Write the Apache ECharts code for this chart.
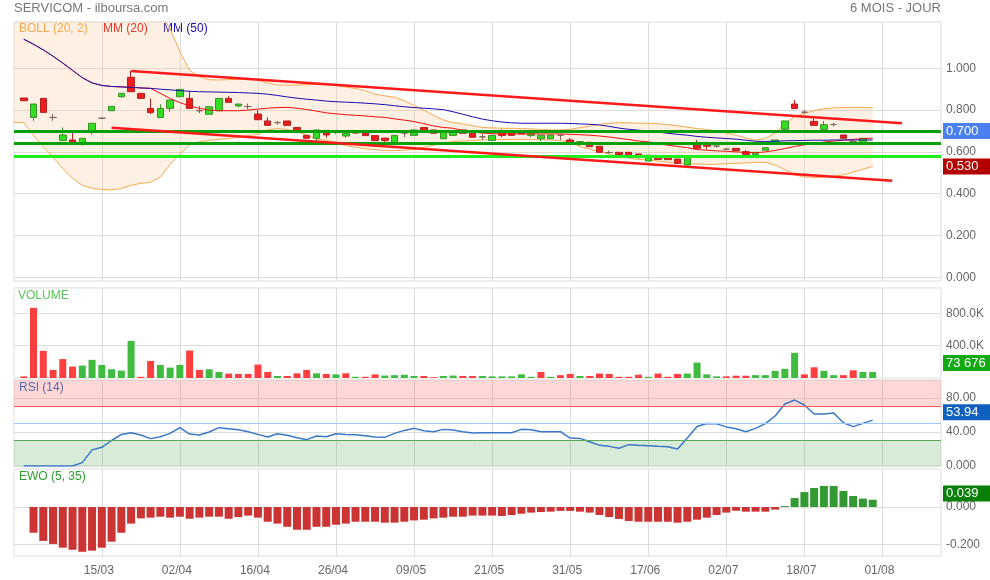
<!DOCTYPE html>
<html><head><meta charset="utf-8">
<script src="https://cdn.jsdelivr.net/npm/echarts@6/dist/echarts.min.js"></script>
<style>html,body{margin:0;padding:0;background:#fff}#c{width:990px;height:580px}</style>
</head><body><div id="c"></div>
<script>
// ---------- DATA ----------
const tickLabels = ['15/03','02/04','16/04','26/04','09/05','21/05','31/05','17/06','02/07','18/07','01/08'];
// daily candles [open, close, low, high]
const candles = [
[0.858,0.845,0.845,0.858],[0.765,0.829,0.749,0.829],[0.856,0.789,0.789,0.856],[0.765,0.765,0.749,0.781],
[0.654,0.681,0.654,0.717],[0.657,0.644,0.644,0.692],[0.641,0.665,0.630,0.665],[0.698,0.737,0.682,0.737],
[0.761,0.761,0.757,0.765],[0.797,0.818,0.797,0.818],[0.864,0.880,0.859,0.880],[0.957,0.888,0.888,0.987],
[0.880,0.856,0.856,0.880],[0.808,0.788,0.781,0.856],[0.764,0.808,0.764,0.828],[0.808,0.848,0.792,0.848],
[0.864,0.899,0.864,0.899],[0.856,0.808,0.808,0.891],[0.797,0.797,0.785,0.820],[0.780,0.816,0.780,0.816],
[0.797,0.856,0.797,0.856],[0.856,0.837,0.837,0.867],[0.820,0.829,0.813,0.829],[0.817,0.817,0.804,0.831],
[0.781,0.754,0.754,0.800],[0.748,0.727,0.727,0.765],[0.740,0.740,0.730,0.748],[0.748,0.727,0.727,0.748],
[0.717,0.700,0.700,0.717],[0.679,0.665,0.665,0.679],[0.665,0.705,0.649,0.705],[0.703,0.681,0.668,0.703],
[0.694,0.694,0.686,0.702],[0.676,0.689,0.668,0.692],[0.700,0.690,0.690,0.700],[0.700,0.678,0.678,0.700],
[0.678,0.654,0.654,0.678],[0.666,0.654,0.644,0.666],[0.641,0.679,0.641,0.679],[0.690,0.690,0.670,0.700],
[0.679,0.705,0.679,0.705],[0.717,0.700,0.700,0.717],[0.705,0.689,0.689,0.705],[0.663,0.697,0.663,0.697],
[0.679,0.700,0.679,0.700],[0.705,0.689,0.689,0.705],[0.689,0.670,0.668,0.689],[0.672,0.672,0.657,0.686],
[0.655,0.679,0.655,0.679],[0.700,0.679,0.670,0.708],[0.700,0.679,0.679,0.700],[0.700,0.686,0.686,0.700],
[0.679,0.690,0.670,0.690],[0.663,0.680,0.650,0.682],[0.663,0.681,0.663,0.681],[0.680,0.680,0.657,0.684],
[0.657,0.646,0.646,0.666],[0.641,0.649,0.630,0.649],[0.646,0.625,0.625,0.646],[0.627,0.598,0.598,0.627],
[0.597,0.597,0.590,0.606],[0.598,0.587,0.587,0.598],[0.598,0.586,0.586,0.598],[0.590,0.584,0.568,0.590],
[0.556,0.584,0.556,0.584],[0.577,0.564,0.564,0.577],[0.577,0.563,0.563,0.577],[0.566,0.545,0.545,0.566],
[0.537,0.577,0.537,0.577],[0.633,0.617,0.617,0.657],[0.641,0.627,0.611,0.641],[0.628,0.628,0.620,0.630],
[0.613,0.613,0.609,0.617],[0.617,0.606,0.606,0.617],[0.601,0.588,0.588,0.609],[0.588,0.598,0.588,0.598],
[0.608,0.620,0.608,0.620],[0.646,0.657,0.646,0.657],[0.708,0.748,0.692,0.748],[0.829,0.807,0.807,0.848],
[0.790,0.790,0.781,0.800],[0.746,0.727,0.727,0.760],[0.708,0.730,0.692,0.748],[0.731,0.731,0.721,0.740],
[0.681,0.665,0.665,0.681],[0.650,0.650,0.644,0.657],[0.641,0.665,0.641,0.665],[0.700,0.700,0.692,0.705]
];
const volumes = [
20000,866000,335000,100000,234000,141000,153000,224000,161000,108000,
91000,458000,15000,211000,161000,128000,161000,339000,100000,108000,
75000,54000,50000,50000,166000,75000,25000,25000,58000,100000,
58000,50000,45000,58000,15000,15000,45000,30000,35000,40000,
25000,25000,10000,25000,30000,25000,25000,25000,20000,20000,
20000,45000,15000,75000,15000,35000,50000,25000,25000,55000,
50000,15000,15000,40000,15000,55000,15000,50000,55000,190000,
45000,20000,20000,28000,28000,35000,35000,88000,113000,311000,
45000,132000,88000,35000,35000,95000,75000,73676
];
const ma20 = [
1.139,1.115,1.088,1.058,1.025,0.990,0.955,0.930,0.918,0.913,
0.911,0.909,0.906,0.904,0.880,0.855,0.836,0.820,0.808,0.800,
0.797,0.797,0.797,0.800,0.805,0.809,0.812,0.813,0.809,0.803,
0.795,0.787,0.782,0.778,0.775,0.772,0.768,0.765,0.758,0.752,
0.745,0.735,0.724,0.717,0.713,0.702,0.695,0.690,0.687,0.686,
0.686,0.686,0.686,0.686,0.686,0.686,0.684,0.682,0.680,0.676,
0.671,0.665,0.659,0.652,0.648,0.641,0.632,0.626,0.620,0.611,
0.608,0.605,0.603,0.600,0.598,0.596,0.600,0.607,0.616,0.626,
0.634,0.641,0.647,0.652,0.656,0.660,0.663,0.666
];
const ma50 = [
1.139,1.115,1.088,1.058,1.025,0.990,0.955,0.930,0.918,0.913,
0.911,0.909,0.906,0.904,0.900,0.897,0.893,0.890,0.888,0.887,
0.886,0.885,0.884,0.882,0.880,0.876,0.870,0.863,0.857,0.852,
0.848,0.843,0.840,0.838,0.836,0.833,0.830,0.826,0.821,0.816,
0.812,0.809,0.806,0.802,0.792,0.780,0.768,0.757,0.749,0.743,
0.739,0.737,0.737,0.737,0.737,0.737,0.736,0.734,0.732,0.729,
0.722,0.714,0.708,0.704,0.700,0.695,0.689,0.684,0.680,0.674,
0.670,0.667,0.664,0.661,0.656,0.651,0.650,0.651,0.653,0.654,
0.655,0.656,0.656,0.657,0.657,0.657,0.657,0.657
];
// Bollinger bands, starting one slot before the first candle
const bollUpper = [
1.54,1.54,1.52,1.50,1.48,1.46,1.44,1.42,1.40,1.39,
1.38,1.36,1.35,1.33,1.31,1.26,1.19,1.08,0.990,0.960,
0.945,0.944,0.946,0.947,0.946,0.944,0.930,0.920,0.920,0.920,
0.922,0.923,0.925,0.918,0.910,0.904,0.892,0.876,0.868,0.862,
0.845,0.822,0.800,0.775,0.753,0.740,0.734,0.725,0.717,0.715,
0.713,0.713,0.712,0.710,0.708,0.705,0.705,0.708,0.716,0.724,
0.732,0.737,0.740,0.739,0.737,0.737,0.735,0.730,0.725,0.718,
0.712,0.707,0.700,0.690,0.680,0.667,0.656,0.665,0.690,0.735,
0.768,0.785,0.797,0.806,0.811,0.812,0.812,0.812,0.812
];
const bollLower = [
0.740,0.740,0.680,0.625,0.575,0.520,0.474,0.440,0.426,0.420,
0.418,0.425,0.440,0.450,0.454,0.480,0.540,0.590,0.633,0.648,
0.655,0.660,0.664,0.670,0.678,0.684,0.705,0.712,0.707,0.697,
0.680,0.662,0.655,0.645,0.630,0.622,0.615,0.610,0.606,0.606,
0.608,0.612,0.622,0.632,0.642,0.649,0.652,0.655,0.657,0.658,
0.659,0.660,0.660,0.659,0.658,0.657,0.654,0.648,0.625,0.613,
0.600,0.590,0.578,0.570,0.564,0.561,0.556,0.550,0.546,0.543,
0.542,0.540,0.541,0.543,0.545,0.547,0.549,0.550,0.537,0.515,
0.490,0.480,0.478,0.479,0.483,0.490,0.503,0.517,0.530
];
const rsi = [
0,0,0,0,0,0,4,19,22,30,
37.2,39.2,36.5,32.2,34.5,38.4,45.1,37.6,36.5,40,
45.1,43.9,42.7,40.4,37.2,34.1,38,36.1,33.3,31,
35.3,34.5,38,37.2,36.9,35.7,34.1,33.7,38.4,41.9,
44.3,41.5,40.4,43.1,42.3,40.4,38.8,39,39.2,39.2,
39.2,43.1,42.7,40.4,40.4,40.4,32.9,32.5,28.6,24.3,
23.1,20.8,25.1,24.3,23.9,23.1,22.7,20,33,46.4,
50,49.6,46,43.9,40.4,44.3,49.8,58.8,73,77.6,
71.8,61.2,61.2,62.3,50.9,46.3,50.2,53.94
];
const ewo = [
'-',-0.138,-0.182,-0.198,-0.218,-0.229,-0.240,-0.234,-0.218,-0.186,
-0.138,-0.089,-0.061,-0.057,-0.052,-0.057,-0.052,-0.063,-0.057,-0.052,
-0.052,-0.063,-0.054,-0.046,-0.057,-0.079,-0.089,-0.106,-0.122,-0.122,
-0.106,-0.106,-0.095,-0.089,-0.079,-0.079,-0.079,-0.084,-0.084,-0.079,
-0.072,-0.068,-0.061,-0.057,-0.052,-0.052,-0.046,-0.046,-0.046,-0.048,
-0.043,-0.036,-0.030,-0.027,-0.025,-0.021,-0.021,-0.025,-0.030,-0.043,
-0.054,-0.064,-0.075,-0.079,-0.079,-0.079,-0.079,-0.084,-0.079,-0.068,
-0.057,-0.043,-0.030,-0.020,-0.025,-0.025,-0.025,-0.014,0.005,0.048,
0.080,0.102,0.113,0.113,0.086,0.059,0.045,0.039
];
const levels = [0.700, 0.640, 0.580];
const trendUpper = [[12, 0.987], [91, 0.737]];
const trendLower = [[10, 0.716], [90, 0.462]];

// ---------- BUILD ----------
const FONT = '"Liberation Sans", Arial, sans-serif';
const N = 96;
const cats = [];
for (let k = 0; k < N; k++) cats.push('');
tickLabels.forEach((t, j) => { cats[9 + 8 * j] = t; });
const pad = a => ['-'].concat(a);
const isTick = (i, v) => v !== '';

const candleData = pad(candles);
const closes = candles.map(c => c[1]);
const volData = pad(volumes.map((v, i) => {
  const up = i === 0 ? candles[0][1] >= candles[0][0] : closes[i] >= closes[i - 1];
  return { value: v, itemStyle: { color: up ? '#3fbb3f' : '#ff3f3f' } };
}));
const ewoData = pad(ewo.map(v => v === '-' ? '-' : { value: v, itemStyle: { color: v >= 0 ? '#339933' : '#cc3333' } }));
const bandDiff = bollUpper.map((u, i) => +(u - bollLower[i]).toFixed(4));

function fmtThousands(v) { return String(Math.round(v)).replace(/\B(?=(\d{3})+(?!\d))/g, ' '); }
function badge(value, text, bg, dy) {
  return {
    yAxis: value,
    lineStyle: { color: 'rgba(0,0,0,0)', width: 0 },
    label: { show: true, position: 'end', formatter: text, color: '#fff', backgroundColor: bg,
      fontSize: 13, fontFamily: FONT, padding: [2, 3, 1, 3], width: 41, distance: 2, offset: [0, dy || 0] }
  };
}

const gridBase = { left: 14, right: 49, show: true, borderColor: '#dddddd', borderWidth: 1 };
const grids = [
  Object.assign({ top: 22, height: 259 }, gridBase),
  Object.assign({ top: 288, height: 90 }, gridBase),
  Object.assign({ top: 380, height: 86 }, gridBase),
  Object.assign({ top: 469, height: 87 }, gridBase)
];
const xAxes = grids.map((g, i) => ({
  type: 'category', gridIndex: i, data: cats, boundaryGap: false,
  axisLine: { show: false }, axisTick: { show: false },
  axisLabel: i === 3 ? { interval: isTick, color: '#666', fontSize: 12, fontFamily: FONT, margin: 9, padding: [0, 6, 0, 0] }
                     : { show: false, interval: isTick },
  splitLine: { show: true, interval: isTick, lineStyle: { color: '#dddddd', width: 1 } }
}));
function yAx(i, min, max, ticks, fmt) {
  return {
    type: 'value', gridIndex: i, position: 'right', min: min, max: max, scale: false,
    axisLine: { show: false },
    axisTick: { show: false, customValues: ticks },
    axisLabel: { customValues: ticks, formatter: fmt, color: '#666', fontSize: 12, fontFamily: FONT, margin: 5 },
    splitLine: { show: true, lineStyle: { color: '#dddddd', width: 1 } }
  };
}
const yAxes = [
  yAx(0, -0.0177, 1.2215, [0, 0.2, 0.4, 0.6, 0.8, 1.0], v => v.toFixed(3)),
  yAx(1, 0, 1111000, [400000, 800000], v => (v / 1000).toFixed(1) + 'K'),
  yAx(2, 0, 101.2, [0, 40, 80], v => v === 0 ? '0.000' : v.toFixed(2)),
  yAx(3, -0.2627, 0.2038, [-0.2, 0], v => v.toFixed(3))
];

const series = [
  { name: 'bollLow', type: 'line', xAxisIndex: 0, yAxisIndex: 0, data: bollLower, stack: 'boll', symbol: 'none',
    lineStyle: { color: '#f7a94f', width: 1 }, z: 1,
    markLine: { silent: true, symbol: ['none', 'none'], animation: false,
      data: [badge(bollLower[bollLower.length - 1], bollLower[bollLower.length - 1].toFixed(3), '#b30000', 0)] } },
  { name: 'bollBand', type: 'line', xAxisIndex: 0, yAxisIndex: 0, data: bandDiff, stack: 'boll', symbol: 'none',
    lineStyle: { color: '#f7a94f', width: 1 }, areaStyle: { color: 'rgba(250,185,120,0.30)' }, z: 1 },
  { name: 'candles', type: 'candlestick', xAxisIndex: 0, yAxisIndex: 0, data: candleData, barWidth: 7, z: 3,
    itemStyle: { color: '#33dd22', color0: '#ee1c1c', borderColor: '#3b8f2b', borderColor0: '#b02222',
      borderColorDoji: '#7d6658', borderWidth: 1 },
    markLine: { silent: true, symbol: ['none', 'none'], animation: false,
      data: [
        { yAxis: levels[0], lineStyle: { color: '#0aa00a', width: 3, type: 'solid' }, label: { show: false } },
        { yAxis: levels[1], lineStyle: { color: '#0aa00a', width: 3, type: 'solid' }, label: { show: false } },
        { yAxis: levels[2], lineStyle: { color: '#1ef01e', width: 3, type: 'solid' }, label: { show: false } },
        badge(closes[closes.length - 1], closes[closes.length - 1].toFixed(3), '#4a80f0', 0)
      ] } },
  { name: 'ma20', type: 'line', xAxisIndex: 0, yAxisIndex: 0, data: pad(ma20), symbol: 'none',
    lineStyle: { color: '#ee1111', width: 1 }, z: 4 },
  { name: 'ma50', type: 'line', xAxisIndex: 0, yAxisIndex: 0, data: pad(ma50), symbol: 'none',
    lineStyle: { color: '#1a0fb0', width: 1 }, z: 4 },
  { name: 'trendUp', type: 'line', xAxisIndex: 0, yAxisIndex: 0, data: trendUpper, symbol: 'none',
    lineStyle: { color: '#ff1a1a', width: 2.5 }, z: 5 },
  { name: 'trendLow', type: 'line', xAxisIndex: 0, yAxisIndex: 0, data: trendLower, symbol: 'none',
    lineStyle: { color: '#ff1a1a', width: 2.5 }, z: 5 },
  { name: 'volume', type: 'bar', xAxisIndex: 1, yAxisIndex: 1, data: volData, barWidth: 7,
    markLine: { silent: true, symbol: ['none', 'none'], animation: false,
      data: [badge(volumes[volumes.length - 1], fmtThousands(volumes[volumes.length - 1]), '#14aa14', -9)] } },
  { name: 'rsi', type: 'line', xAxisIndex: 2, yAxisIndex: 2, data: pad(rsi), symbol: 'none',
    lineStyle: { color: '#3a78c8', width: 1.5 }, z: 4,
    markArea: { silent: true, animation: false, data: [
      [{ yAxis: 70, itemStyle: { color: 'rgba(250,110,110,0.28)' } }, { yAxis: 101.2 }],
      [{ yAxis: 0, itemStyle: { color: 'rgba(100,170,100,0.25)' } }, { yAxis: 30 }]
    ] },
    markLine: { silent: true, symbol: ['none', 'none'], animation: false, data: [
      { yAxis: 70, lineStyle: { color: '#ff5a5a', width: 1, type: 'solid' }, label: { show: false } },
      { yAxis: 50, lineStyle: { color: '#9ccbff', width: 1, type: 'solid' }, label: { show: false } },
      { yAxis: 30, lineStyle: { color: '#5aaa5a', width: 1, type: 'solid' }, label: { show: false } },
      badge(rsi[rsi.length - 1], rsi[rsi.length - 1].toFixed(2), '#1060c0', -8)
    ] } },
  { name: 'ewo', type: 'bar', xAxisIndex: 3, yAxisIndex: 3, data: ewoData, barWidth: 8,
    markLine: { silent: true, symbol: ['none', 'none'], animation: false,
      data: [badge(ewo[ewo.length - 1], ewo[ewo.length - 1].toFixed(3), '#0a7f0a', -6)] } }
];

const txt = (left, top, text, color, size) => ({ type: 'text', left: left, top: top, silent: true,
  style: { text: text, fill: color, font: size + 'px ' + FONT } });

const option = {
  animation: false,
  backgroundColor: '#fff',
  grid: grids, xAxis: xAxes, yAxis: yAxes, series: series,
  graphic: [
    txt(14, 2, 'SERVICOM - ilboursa.com', '#777', 13),
    { type: 'text', right: 49, top: 2, silent: true, style: { text: '6 MOIS - JOUR', fill: '#777', font: '13px ' + FONT } },
    txt(19, 23, 'BOLL (20, 2)', '#f5a54a', 12),
    txt(103, 23, 'MM (20)', '#ee1111', 12),
    txt(163, 23, 'MM (50)', '#1a0fb0', 12),
    txt(18, 290, 'VOLUME', '#55c655', 12),
    txt(19, 382, 'RSI (14)', '#2266bb', 12),
    txt(19, 471, 'EWO (5, 35)', '#2e9e2e', 12)
  ]
};
echarts.init(document.getElementById('c'), null, { renderer: 'canvas' }).setOption(option);
</script>
</body></html>
